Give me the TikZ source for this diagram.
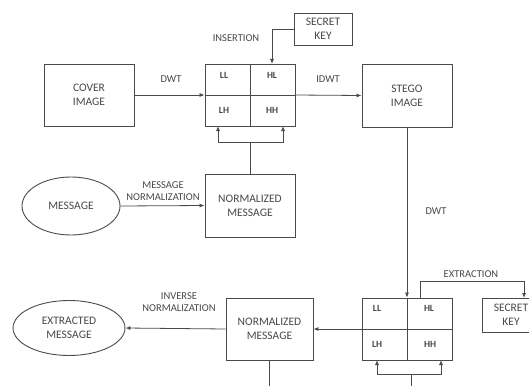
\documentclass[tikz,border=0pt]{standalone}
\usepackage{fontspec}
\setmainfont{Carlito}
\usetikzlibrary{arrows.meta,shapes.geometric}
\definecolor{ln}{HTML}{4A4A4A}
\definecolor{tx}{HTML}{484848}
\tikzset{
  box/.style={draw=ln,line width=0.9pt,rectangle,align=center,text=tx,font=\fontsize{11.5}{14}\selectfont,inner sep=0pt},
  oval/.style={draw=ln,line width=0.9pt,ellipse,align=center,text=tx,font=\fontsize{11.5}{14}\selectfont,inner sep=0pt},
  lbl/.style={text=tx,font=\fontsize{10.5}{12.5}\selectfont,align=center,inner sep=0pt},
  cell/.style={text=tx,font=\bfseries\fontsize{9.5}{11}\selectfont,inner sep=0pt},
  conn/.style={draw=ln,line width=0.8pt},
  arr/.style={conn,-{Latex[length=5pt,width=4pt]}}
}
\begin{document}
\begin{tikzpicture}[x=1pt,y=-1pt]
\useasboundingbox[fill=white] (0,0) rectangle (529,385);
% top row
\node[box,minimum width=90pt,minimum height=62pt] (cover) at (89,95) {COVER\\IMAGE};
\node[box,minimum width=90pt,minimum height=62pt] (g1) at (250,95) {};
\draw[conn] (g1.north) -- (g1.south) (g1.west) -- (g1.east);
\node[cell] (ll1) at (224,75) {LL};
\node[cell] (hl1) at (272,75) {HL};
\node[cell] (lh1) at (224,110) {LH};
\node[cell] (hh1) at (272,110) {HH};
\node[box,minimum width=58pt,minimum height=32pt] (key1) at (323,29) {SECRET\\KEY};
\node[box,minimum width=90pt,minimum height=63pt] (stego) at (407,95.5) {STEGO\\IMAGE};
\node[box,minimum width=90pt,minimum height=63pt] (nm1) at (250,205.5) {NORMALIZED\\MESSAGE};
\node[oval,minimum width=98pt,minimum height=58pt] (msg) at (71,206) {MESSAGE};
% bottom row
\node[box,minimum width=90pt,minimum height=62pt] (g2) at (407,329) {};
\draw[conn] (g2.north) -- (g2.south) (g2.west) -- (g2.east);
\node[cell] (ll2) at (377,308) {LL};
\node[cell] (hl2) at (429,308) {HL};
\node[cell] (lh2) at (377,344) {LH};
\node[cell] (hh2) at (430,344) {HH};
\node[box,minimum width=58pt,minimum height=34pt] (key2) at (511,315) {SECRET\\KEY};
\node[box,minimum width=87pt,minimum height=62pt] (nm2) at (269.5,329) {NORMALIZED\\MESSAGE};
\node[oval,minimum width=112pt,minimum height=55pt] (ext) at (69,328) {EXTRACTED\\MESSAGE};
% labels
\node[lbl] (l1) at (171,79) {DWT};
\node[lbl] (l2) at (236,38) {INSERTION};
\node[lbl] (l3) at (328,79) {IDWT};
\node[lbl] (l4) at (163,191) {MESSAGE\\NORMALIZATION};
\node[lbl] (l5) at (436,211) {DWT};
\node[lbl] (l6) at (471,274) {EXTRACTION};
\node[lbl] (l7) at (179,302) {INVERSE\\NORMALIZATION};
% coordinates
\coordinate (k1) at (272,64);
\coordinate (j1) at (250,142);
\coordinate (a1) at (218,126);
\coordinate (a2) at (283,126);
\coordinate (ex1) at (420,298);
\coordinate (ex2) at (524,298);
\coordinate (b0) at (269.5,392);
\coordinate (j2) at (411,374);
\coordinate (b1) at (411,392);
\coordinate (c1) at (377,360);
\coordinate (c2) at (441,360);
% connectors
\draw[arr] (cover.east) -- (g1.west);
\draw[arr] (key1.west) -| (k1);
\draw[arr] (g1.east) -- (stego.west);
\draw[conn] (nm1.north) -- (j1);
\draw[arr] (j1) -| (a1);
\draw[arr] (j1) -| (a2);
\draw[arr] (msg.east) -- (nm1.west);
\draw[arr] (stego.south) -- (g2.north);
\draw[arr] (ex1) -- ++(0,-17) -| (ex2);
\draw[arr] (g2.west) -- (nm2.east);
\draw[arr] (nm2.west) -- (ext.east);
\draw[conn] (nm2.south) -- (b0);
\draw[conn] (b1) -- (j2);
\draw[arr] (j2) -| (c1);
\draw[arr] (j2) -| (c2);
\end{tikzpicture}
\end{document}
